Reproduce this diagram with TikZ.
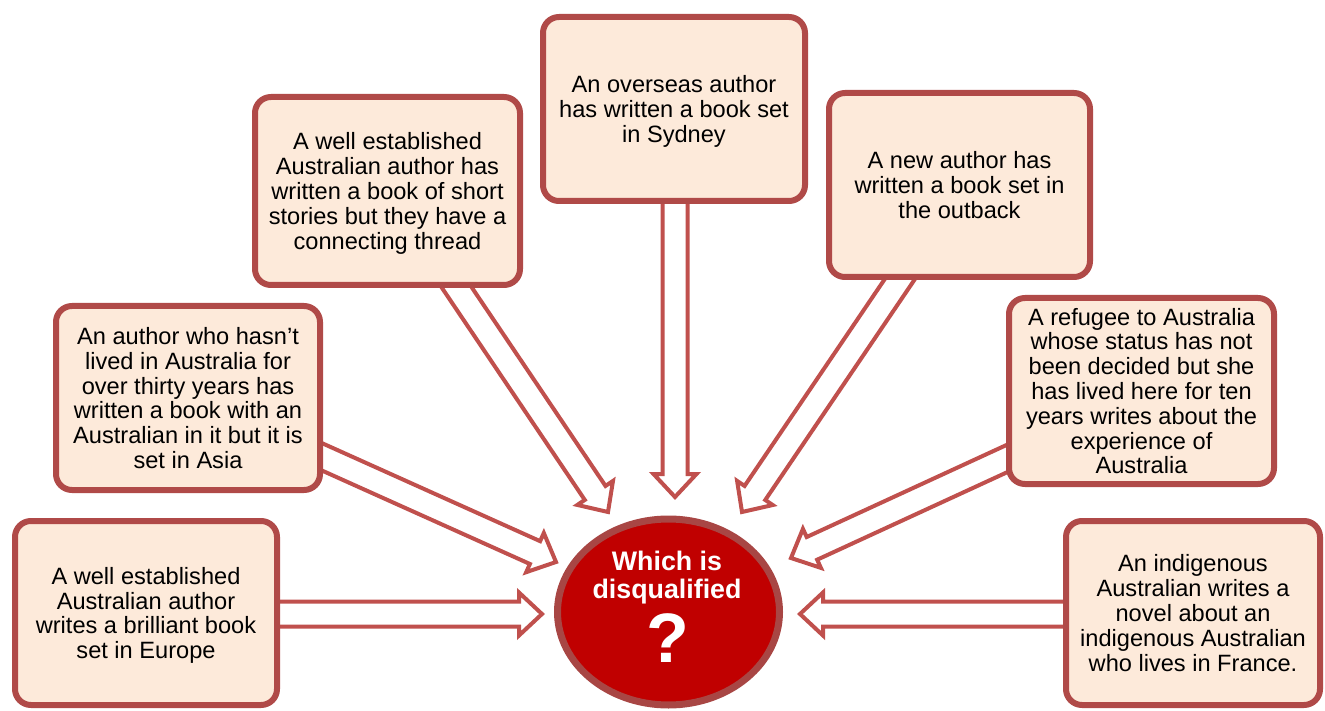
\documentclass[tikz,border=0pt]{standalone}
\usepackage{fontspec}
\setmainfont{Liberation Sans}
\usetikzlibrary{calc,backgrounds,shadows,shapes.geometric}

\definecolor{boxline}{RGB}{176,74,72}
\definecolor{boxfill}{RGB}{253,234,218}
\definecolor{arrowline}{RGB}{192,80,77}
\definecolor{hubfill}{RGB}{192,0,0}
\definecolor{hubline}{RGB}{168,70,68}

\tikzset{
  card/.style={draw=boxline, fill=boxfill, line width=6pt, rounded corners=16pt,
    inner sep=0pt, align=center, font=\fontsize{23.6}{24.8}\selectfont, text depth=0pt,
    drop shadow={shadow xshift=2pt, shadow yshift=-2pt, opacity=0.25}},
  hub/.style={ellipse, draw=hubline, fill=hubfill, line width=7pt, inner sep=0pt,
    drop shadow={shadow xshift=2pt, shadow yshift=-2pt, opacity=0.25}},
  hubtext/.style={text=white, align=center, inner sep=0pt},
  hollowarrow/.style={draw=arrowline, fill=white, line width=4pt},
}

% hollow block arrow from #1 to the tip #2 (shaft half-width 12.5pt, head half-width 21.5pt, head length 23pt)
\newcommand\blockarrow[2]{%
  \draw[hollowarrow] let \p1=(#1), \p2=(#2),
     \n1={atan2(\y2-\y1,\x2-\x1)}, \n2={veclen(\x2-\x1,\y2-\y1)-23} in
     ($(\p1)+({\n1+90}:12.5pt)$) --
     ($(\p1)+({\n1}:{\n2})+({\n1+90}:12.5pt)$) --
     ($(\p1)+({\n1}:{\n2})+({\n1+90}:21.5pt)$) --
     (\p2) --
     ($(\p1)+({\n1}:{\n2})+({\n1-90}:21.5pt)$) --
     ($(\p1)+({\n1}:{\n2})+({\n1-90}:12.5pt)$) --
     ($(\p1)+({\n1-90}:12.5pt)$) -- cycle;}

\begin{document}
\begin{tikzpicture}[x=1pt,y=-1pt]
\useasboundingbox (0,0) rectangle (1325,711);

% the question in the middle
\node[hub, minimum width=222, minimum height=186] (Q) at (668.5,612) {};
\node[hubtext, font=\bfseries\fontsize{26.8}{28}\selectfont] (qlabel) at (667,577.5) {Which is\\disqualified};
\node[hubtext, font=\bfseries\fontsize{70}{70}\selectfont] (qmark) at (668,638.5) {?};

% the seven cases
\node[card, minimum width=262, minimum height=184] (A) at (146,613)
  {A well established\\Australian author\\writes a brilliant book\\set in Europe};
\node[card, minimum width=264, minimum height=184] (B) at (188,398)
  {An author who hasn’t\\lived in Australia for\\over thirty years has\\written a book with an\\Australian in it but it is\\set in Asia};
\node[card, minimum width=265, minimum height=188] (C) at (387.5,191)
  {A well established\\Australian author has\\written a book of short\\stories but they have a\\connecting thread};
\node[card, minimum width=262, minimum height=184] (D) at (674,109)
  {An overseas author\\has written a book set\\in Sydney};
\node[card, minimum width=261, minimum height=184] (E) at (959.5,185)
  {A new author has\\written a book set in\\the outback};
\node[card, minimum width=265, minimum height=186] (F) at (1141.5,391)
  {A refugee to Australia\\whose status has not\\been decided but she\\has lived here for ten\\years writes about the\\experience of\\Australia};
\node[card, minimum width=254, minimum height=184] (G) at (1193,613)
  {An indigenous\\Australian writes a\\novel about an\\indigenous Australian\\who lives in France.};

% arrow ends: tails hidden under the cards, tips short of the hub
\coordinate (a-out) at (270,614);  \coordinate (a-in) at (542,614);
\coordinate (b-out) at (309,451);  \coordinate (b-in) at (556,562);
\coordinate (c-out) at (447,273);  \coordinate (c-in) at (608,512);
\coordinate (d-out) at (675,195);  \coordinate (d-in) at (675,497);
\coordinate (e-out) at (906,270);  \coordinate (e-in) at (742,512);
\coordinate (f-out) at (1019,453); \coordinate (f-in) at (791,558);
\coordinate (g-out) at (1075,614); \coordinate (g-in) at (800,614);

\begin{pgfonlayer}{background}
  \blockarrow{a-out}{a-in}
  \blockarrow{b-out}{b-in}
  \blockarrow{c-out}{c-in}
  \blockarrow{d-out}{d-in}
  \blockarrow{e-out}{e-in}
  \blockarrow{f-out}{f-in}
  \blockarrow{g-out}{g-in}
\end{pgfonlayer}
\end{tikzpicture}
\end{document}
